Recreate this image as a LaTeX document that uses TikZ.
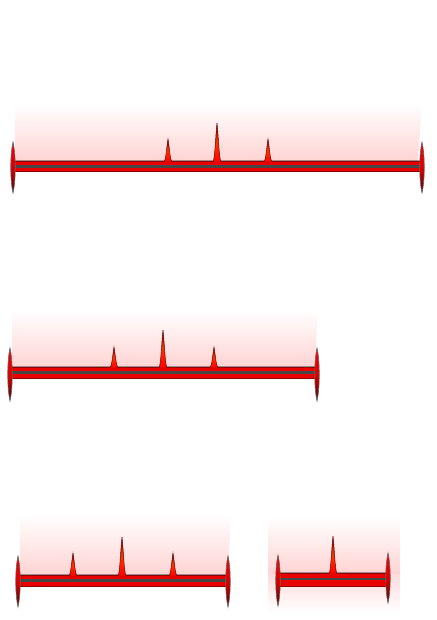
\documentclass[tikz,border=0pt]{standalone}
\usepackage{tikz}
\usetikzlibrary{shadings}

\begin{document}
\begin{tikzpicture}[
    x=0.25mm, y=-0.25mm,
    glow/.style={top color=white, bottom color=red!17, draw=none},
    barshadow/.style={draw=black, opacity=0.35, line width=0.7mm},
    bar/.style={fill=red!92!black, draw=red!55!black, line width=0.15mm},
    midline/.style={draw=gray!55!black, line width=0.65mm},
    capshape/.style={top color=red, bottom color=red!35!black, middle color=red!85!black, draw=black!60, line width=0.15mm},
    spikeshape/.style={top color=red!45!black, bottom color=red, middle color=orange!40!red, draw=red!40!black, line width=0.12mm}
]
\useasboundingbox (0,0) rectangle (436,620);

% Ruler 1: glow
\shade[glow] (15,103) -- (422,103) -- (418,161) -- (15,161) -- cycle;
% Ruler 1: bar and tick marks
\draw[barshadow] (13,161) rectangle (422,171);
\draw[bar] (13,161) rectangle (422,171);
\draw[midline] (13,166.5) -- (422,166.5);
\shade[spikeshape] (164,162) .. controls (166,159) and (166.5,148) .. (168,139) .. controls (169.5,148) and (170,159) .. (172,162) -- cycle;
\shade[spikeshape] (213,162) .. controls (215,158) and (215.5,136) .. (217,123) .. controls (218.5,136) and (219,158) .. (221,162) -- cycle;
\shade[spikeshape] (264,162) .. controls (266,159) and (266.5,148) .. (268,139) .. controls (269.5,148) and (270,159) .. (272,162) -- cycle;
\shade[capshape] (13,142) .. controls (10,155) and (10,180) .. (13,193) .. controls (16,180) and (16,155) .. (13,142) -- cycle;
\shade[capshape] (422,142) .. controls (419,155) and (419,180) .. (422,193) .. controls (425,180) and (425,155) .. (422,142) -- cycle;

% Ruler 2: glow
\shade[glow] (12,310) -- (318,310) -- (315,367) -- (12,367) -- cycle;
% Ruler 2: bar and tick marks
\draw[barshadow] (10,367) rectangle (317,378);
\draw[bar] (10,367) rectangle (317,378);
\draw[midline] (10,372.5) -- (317,372.5);
\shade[spikeshape] (110,368) .. controls (112,365) and (112.5,356) .. (114,347) .. controls (115.5,356) and (116,365) .. (118,368) -- cycle;
\shade[spikeshape] (159,368) .. controls (161,364) and (161.5,343) .. (163,330) .. controls (164.5,343) and (165,364) .. (167,368) -- cycle;
\shade[spikeshape] (210,368) .. controls (212,365) and (212.5,356) .. (214,347) .. controls (215.5,356) and (216,365) .. (218,368) -- cycle;
\shade[capshape] (10,348) .. controls (7,361) and (7,388) .. (10,401) .. controls (13,388) and (13,361) .. (10,348) -- cycle;
\shade[capshape] (317,348) .. controls (314,361) and (314,388) .. (317,401) .. controls (320,388) and (320,361) .. (317,348) -- cycle;

% Ruler 3: glow
\shade[glow] (20,514) -- (231,514) -- (228,575) -- (20,575) -- cycle;
% Ruler 3: bar and tick marks
\draw[barshadow] (18,575) rectangle (228,586);
\draw[bar] (18,575) rectangle (228,586);
\draw[midline] (18,580.3) -- (228,580.3);
\shade[spikeshape] (69,576) .. controls (71,573) and (71.5,562) .. (73,553) .. controls (74.5,562) and (75,573) .. (77,576) -- cycle;
\shade[spikeshape] (118,576) .. controls (120,572) and (120.5,550) .. (122,537) .. controls (123.5,550) and (124,572) .. (126,576) -- cycle;
\shade[spikeshape] (169,576) .. controls (171,573) and (171.5,562) .. (173,553) .. controls (174.5,562) and (175,573) .. (177,576) -- cycle;
\shade[capshape] (18,556) .. controls (15,569) and (15,594) .. (18,607) .. controls (21,594) and (21,569) .. (18,556) -- cycle;
\shade[capshape] (228,556) .. controls (225,569) and (225,594) .. (228,607) .. controls (231,594) and (231,569) .. (228,556) -- cycle;

% Ruler 4: glow
\shade[glow] (268,516) rectangle (400,574);
\shade[top color=red!14, bottom color=white, draw=none] (268,574) rectangle (400,612);
% Ruler 4: bar and tick marks
\draw[barshadow] (278,573) rectangle (388,586);
\draw[bar] (278,573) rectangle (388,586);
\draw[midline] (278,579) -- (388,579);
\shade[spikeshape] (329,574) .. controls (331,570) and (331.5,549) .. (333,536) .. controls (334.5,549) and (335,570) .. (337,574) -- cycle;
\shade[capshape] (278,555) .. controls (275,568) and (275,593) .. (278,606) .. controls (281,593) and (281,568) .. (278,555) -- cycle;
\shade[capshape] (388,553) .. controls (385,566) and (385,590) .. (388,603) .. controls (391,590) and (391,566) .. (388,553) -- cycle;

\end{tikzpicture}
\end{document}
